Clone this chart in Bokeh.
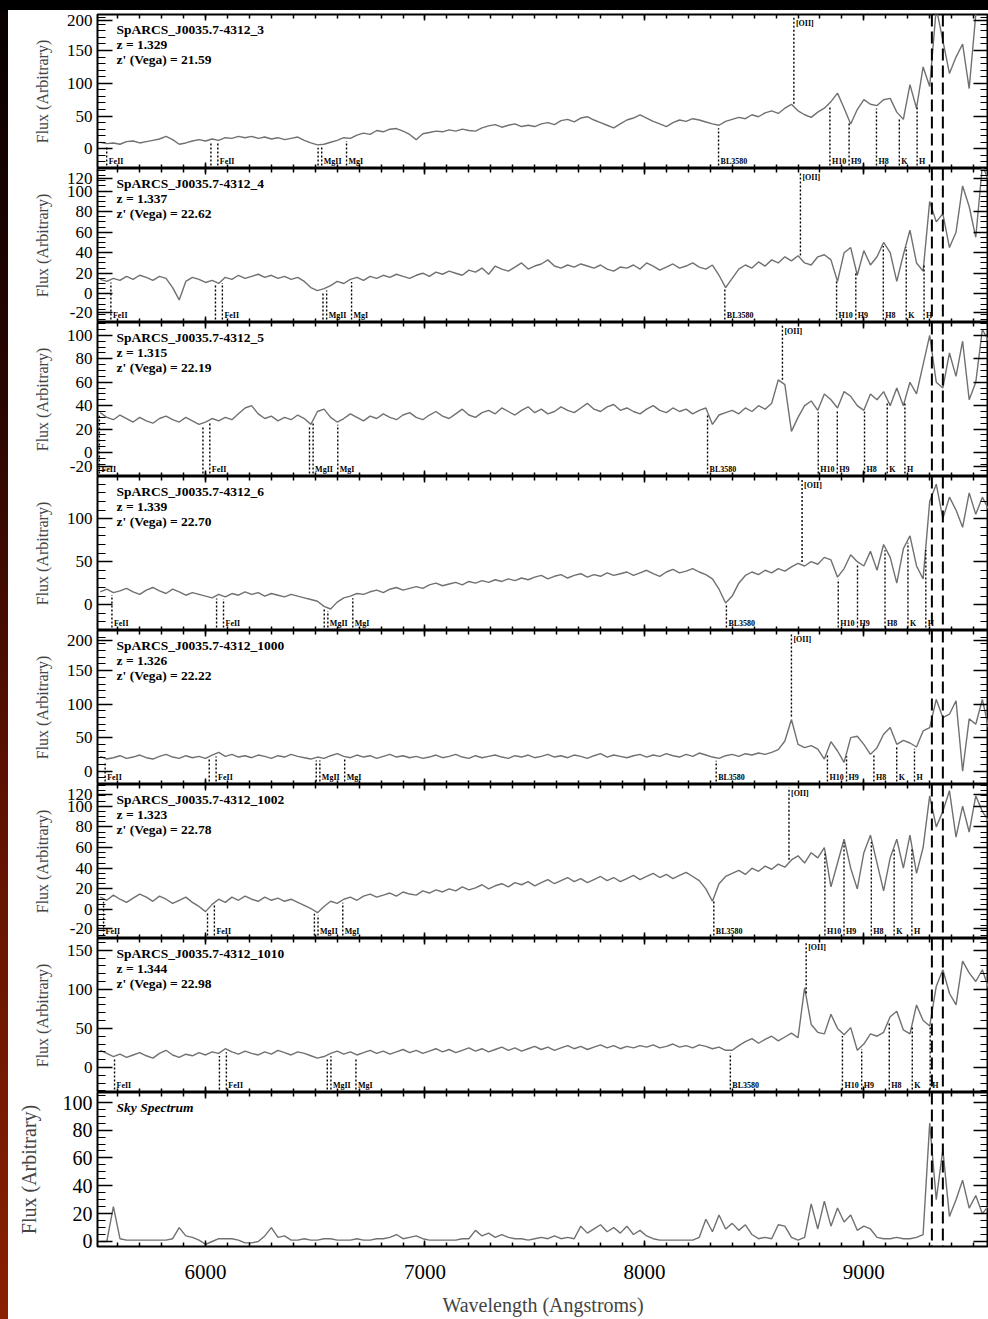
import numpy as np
from bokeh.plotting import figure
from bokeh.models import (Range1d, LinearAxis, SingleIntervalTicker, FixedTicker, Span,
                          ColumnDataSource, CustomJSTickFormatter, Spacer)
from bokeh.layouts import column, row
from bokeh.embed import file_html
from bokeh.resources import INLINE
from bokeh.core.properties import value

# ---------------------------------------------------------------- data
# common wavelength sampling (Angstroms)
wavelength = 5520 + 30 * np.arange(136)

spec_3 = [10, 8, 9, 7, 11, 12, 9, 11, 13, 15, 19, 14, 7, 9, 12, 14,
          12, 15, 13, 17, 16, 19, 17, 19, 16, 18, 15, 17, 14, 16, 18, 13,
          9, 6, 7, 10, 13, 17, 16, 21, 24, 22, 28, 26, 30, 31, 27, 22,
          14, 23, 25, 27, 26, 29, 27, 30, 28, 27, 32, 35, 37, 33, 36, 38,
          34, 36, 34, 38, 40, 37, 43, 45, 41, 47, 49, 44, 40, 36, 32, 38,
          44, 47, 52, 47, 42, 38, 34, 40, 44, 42, 46, 44, 41, 38, 36, 42,
          45, 48, 46, 52, 49, 55, 58, 54, 62, 68, 58, 52, 48, 56, 62, 72,
          85, 62, 38, 60, 75, 68, 66, 75, 77, 56, 45, 98, 62, 125, 95, 215,
          165, 115, 140, 160, 92, 205, 220, 215]

spec_4 = [14, 12, 15, 13, 17, 14, 18, 16, 13, 17, 15, 6, -6, 12, 16, 14,
          11, 13, 10, 16, 14, 18, 15, 17, 19, 16, 18, 15, 17, 14, 16, 12,
          6, 3, 5, 8, 12, 10, 14, 16, 13, 17, 15, 18, 16, 19, 17, 15,
          18, 20, 17, 21, 19, 22, 20, 18, 23, 21, 25, 19, 27, 24, 22, 26,
          30, 24, 27, 29, 33, 27, 25, 28, 26, 29, 27, 25, 28, 24, 22, 26,
          25, 28, 24, 30, 27, 23, 26, 29, 25, 27, 30, 26, 24, 28, 18, 6,
          15, 24, 28, 25, 31, 27, 33, 30, 36, 32, 37, 30, 28, 36, 38, 33,
          12, 40, 45, 18, 42, 28, 36, 50, 40, 12, 38, 62, 30, 22, 90, 70,
          78, 45, 60, 105, 85, 55, 125, 110]

spec_5 = [34, 30, 28, 32, 29, 26, 30, 27, 25, 29, 31, 28, 26, 30, 27, 24,
          26, 29, 27, 30, 28, 33, 38, 40, 33, 29, 31, 27, 30, 28, 32, 29,
          24, 35, 37, 30, 26, 29, 33, 30, 27, 31, 29, 33, 30, 28, 32, 34,
          30, 28, 32, 35, 31, 29, 33, 37, 32, 30, 34, 36, 33, 38, 35, 32,
          36, 39, 34, 37, 33, 35, 39, 36, 34, 38, 42, 37, 35, 39, 41, 36,
          38, 35, 33, 37, 40, 36, 34, 38, 35, 37, 33, 36, 38, 24, 32, 34,
          36, 33, 38, 35, 40, 37, 42, 62, 58, 18, 30, 40, 44, 36, 50, 45,
          38, 52, 48, 40, 36, 50, 45, 52, 40, 55, 40, 60, 50, 75, 100, 60,
          55, 85, 65, 95, 45, 60, 105, 95]

spec_6 = [15, 18, 14, 16, 19, 15, 12, 17, 20, 16, 13, 18, 15, 11, 14, 12,
          10, 8, 12, 9, 13, 11, 15, 12, 14, 10, 13, 11, 9, 12, 10, 8,
          6, 4, -2, -5, 3, 8, 10, 13, 12, 15, 17, 14, 18, 20, 17, 19,
          21, 19, 23, 25, 22, 24, 26, 23, 27, 25, 28, 26, 29, 27, 30, 28,
          31, 29, 32, 34, 30, 33, 35, 31, 34, 36, 32, 35, 33, 37, 34, 36,
          38, 34, 37, 40, 36, 33, 38, 41, 37, 39, 42, 38, 35, 30, 18, 2,
          10, 25, 34, 38, 35, 40, 37, 42, 39, 44, 48, 45, 50, 47, 55, 52,
          32, 42, 58, 50, 45, 62, 40, 70, 55, 25, 65, 80, 45, 30, 120, 140,
          100, 125, 110, 90, 130, 105, 125, 110]

spec_1000 = [22, 18, 20, 23, 19, 21, 24, 20, 18, 22, 25, 21, 19, 23, 20, 22,
             19, 24, 28, 22, 25, 21, 23, 20, 24, 22, 19, 23, 21, 25, 22, 20,
             18, 21, 19, 23, 26, 22, 20, 24, 21, 23, 19, 22, 25, 21, 23, 20,
             22, 19, 21, 24, 20, 22, 25, 21, 19, 23, 20, 22, 24, 21, 19, 23,
             21, 24, 20, 22, 25, 21, 23, 20, 24, 22, 19, 23, 26, 21, 24, 22,
             20, 23, 25, 21, 24, 22, 26, 23, 21, 25, 22, 27, 24, 21, 19, 23,
             25, 22, 26, 24, 27, 25, 28, 32, 45, 77, 40, 35, 38, 33, 18, 44,
             30, 13, 50, 52, 40, 25, 35, 55, 65, 40, 46, 42, 36, 60, 65, 107,
             80, 85, 105, 0, 78, 70, 107, 62]

spec_1002 = [12, 9, 14, 10, 7, 11, 15, 12, 8, 13, 10, 6, 9, 12, 7, 3,
             -2, 5, 10, 7, 12, 9, 13, 10, 8, 12, 9, 11, 8, 10, 7, 4,
             1, -3, 3, 8, 6, 10, 12, 9, 13, 15, 12, 14, 16, 13, 17, 15,
             14, 18, 16, 19, 17, 20, 18, 22, 19, 21, 24, 20, 23, 25, 22, 26,
             24, 27, 23, 26, 29, 25, 28, 31, 27, 30, 26, 29, 32, 28, 31, 27,
             30, 33, 29, 32, 35, 31, 34, 30, 33, 36, 32, 28, 20, 8, 25, 32,
             35, 38, 34, 40, 37, 42, 39, 44, 41, 48, 52, 45, 55, 50, 60, 22,
             45, 68, 40, 20, 55, 72, 45, 18, 50, 68, 40, 72, 35, 60, 110, 80,
             95, 115, 70, 100, 75, 110, 95, 85]

spec_1010 = [22, 18, 14, 17, 13, 16, 19, 15, 12, 18, 22, 16, 13, 17, 15, 19,
             16, 20, 18, 24, 20, 17, 21, 18, 16, 20, 17, 22, 19, 16, 20, 18,
             15, 12, 14, 18, 21, 17, 20, 16, 19, 22, 18, 21, 17, 20, 23, 19,
             22, 18, 21, 24, 20, 23, 19, 22, 25, 21, 24, 20, 23, 26, 22, 25,
             21, 24, 27, 23, 26, 22, 25, 28, 24, 27, 23, 26, 29, 25, 28, 24,
             27, 25, 28, 26, 29, 25, 27, 30, 26, 28, 25, 29, 27, 24, 26, 22,
             22, 28, 33, 37, 31, 36, 40, 34, 39, 44, 38, 102, 55, 45, 43, 68,
             50, 42, 51, 22, 30, 43, 40, 45, 65, 72, 48, 43, 80, 60, 53, 104,
             125, 95, 80, 136, 121, 110, 125, 100]

sky = [0, 0, 25, 2, 1, 1, 1, 1, 1, 1, 1, 2, 10, 4, 3, 1,
       -2, 0, 2, 2, 2, 1, -1, -1, 0, 4, 10, 3, 4, 1, 1, 2,
       1, 1, 2, 2, 1, 1, 1, 2, 1, 1, 2, 2, 3, 5, 2, 3,
       4, 2, 1, 1, 1, 1, 1, 2, 2, 8, 4, 6, 3, 5, 3, 2,
       2, 1, 2, 3, 2, 4, 2, 3, 2, 11, 6, 9, 12, 7, 10, 6,
       11, 5, 8, 4, 2, 1, 1, 1, 1, 1, 1, 3, 16, 7, 19, 9,
       13, 8, 12, 5, 2, 3, 2, 12, 11, 3, 1, 3, 27, 9, 29, 11,
       24, 14, 19, 8, 11, 9, 3, 2, 2, 3, 2, 2, 3, 5, 85, 30,
       66, 18, 30, 44, 24, 33, 20, 26]

object_names = ["SpARCS_J0035.7-4312_3", "SpARCS_J0035.7-4312_4",
                "SpARCS_J0035.7-4312_5", "SpARCS_J0035.7-4312_6",
                "SpARCS_J0035.7-4312_1000", "SpARCS_J0035.7-4312_1002",
                "SpARCS_J0035.7-4312_1010"]
redshifts = [1.329, 1.337, 1.315, 1.339, 1.326, 1.323, 1.344]
zprime_vega = ["21.59", "22.62", "22.19", "22.70", "22.22", "22.78", "22.98"]
spectra = [spec_3, spec_4, spec_5, spec_6, spec_1000, spec_1002, spec_1010]

# rest-frame features marked below each spectrum
feature_names = ["FeII", "FeII", "MgII", "MgI", "BL3580", "H10", "H9", "H8", "K", "H"]
feature_rest = [[2382.8], [2586.7, 2600.2], [2796.4, 2803.5], [2852.1], [3580.0],
                [3797.9], [3835.4], [3889.0], [3933.7], [3968.5]]
oii_rest = 3727.4

# observed-frame markers drawn through every panel
telluric_edges = [9310, 9360]

# flux axis of each panel: (start, end, major step, minor ticks per step)
flux_axes = [(-30, 205, 50, 5), (-28, 122, 20, 4), (-20.5, 111, 20, 4),
             (-30, 149, 50, 5), (-20, 210, 50, 5), (-28, 121, 20, 4),
             (-32, 165, 50, 5), (-3.6, 107, 20, 4)]

# ---------------------------------------------------------------- style
SERIF = "Liberation Serif"
FRAME_W, FRAME_H = 890, 154
EDGE_PAD = 10          # flux tick labels are kept this far (px) inside a panel
x_range = Range1d(5507.6, 9568)


def hidden_axis(ticker):
    return LinearAxis(ticker=ticker,
                      formatter=CustomJSTickFormatter(code="return ''"),
                      major_label_text_font_size="0px", major_label_standoff=0,
                      major_tick_out=0, minor_tick_out=0,
                      axis_line_color=None)


def flux_ticker(y0, y1, step, nminor, dy, top_extra, last):
    """Major ticks at multiples of step (nudged inside near the panel edges)
    plus evenly spaced minor ticks; returns ticker and label lookup."""
    values = [t for t in range(-200, 400, step) if y0 <= t <= y1]
    positions = []
    for t in values:
        pos = (t - y0) / dy
        if pos < EDGE_PAD and not last:
            positions.append(y0 + EDGE_PAD * dy)
        elif FRAME_H - pos < EDGE_PAD - top_extra:
            positions.append(y1 - (EDGE_PAD - top_extra) * dy)
        else:
            positions.append(float(t))
    mstep = step / nminor
    k0 = int(np.ceil(y0 / mstep))
    k1 = int(np.floor(y1 / mstep))
    minors = [k * mstep for k in range(k0, k1 + 1)]
    ticker = FixedTicker(ticks=positions, minor_ticks=minors)
    return ticker, positions, [str(t) for t in values]


def make_panel(idx, flux, title_lines, z=None, last=False):
    y0, y1, step, nminor = flux_axes[idx]
    top = 4 if idx == 0 else 0
    bottom = 73 if last else 0
    p = figure(width=980, height=FRAME_H + top + bottom,
               x_range=x_range, y_range=Range1d(y0, y1),
               x_axis_location=None, y_axis_location=None,
               output_backend="svg", toolbar_location=None,
               min_border_left=89, min_border_right=0,
               min_border_top=top, min_border_bottom=bottom,
               background_fill_color="white", border_fill_color="white",
               outline_line_color="black", outline_line_width=2)
    p.grid.visible = False

    xs = x_range.end - x_range.start
    ys = y1 - y0
    dx = xs / FRAME_W
    dy = ys / FRAME_H
    tick_size = "20px" if last else "17px"

    yt, pos, txt = flux_ticker(y0, y1, step, nminor, dy, top, last)
    left = LinearAxis(ticker=yt, axis_label="Flux (Arbitrary)",
                      formatter=CustomJSTickFormatter(
                          args=dict(pos=pos, txt=txt),
                          code="const i = pos.findIndex(v => Math.abs(v - tick) < 1e-6);"
                               " return i >= 0 ? txt[i] : '';"),
                      major_tick_in=15, major_tick_out=0,
                      minor_tick_in=8, minor_tick_out=0,
                      major_tick_line_width=1.5, minor_tick_line_width=1.2,
                      axis_line_color=None, major_label_standoff=5,
                      major_label_text_font=SERIF,
                      major_label_text_font_size=tick_size,
                      major_label_text_color="black",
                      axis_label_text_font=SERIF,
                      axis_label_text_font_style="normal",
                      axis_label_text_font_size="20px" if last else "16px",
                      axis_label_standoff=20 if last else 13)
    p.add_layout(left, "left")

    right = hidden_axis(yt)
    right.major_tick_in = 15
    right.minor_tick_in = 8
    right.major_tick_line_width = 1.5
    p.add_layout(right, "right")

    xt = SingleIntervalTicker(interval=1000, num_minor_ticks=10)
    top_ax = hidden_axis(xt)
    top_ax.major_tick_in = 6
    top_ax.minor_tick_in = 4
    top_ax.major_tick_line_width = 1.5
    top_ax.minor_tick_line_width = 1.5
    p.add_layout(top_ax, "above")
    if last:
        below = LinearAxis(ticker=xt, axis_label="Wavelength (Angstroms)",
                           major_tick_in=6, major_tick_out=0,
                           minor_tick_in=4, minor_tick_out=0,
                           major_tick_line_width=1.5, minor_tick_line_width=1.5,
                           axis_line_color=None, major_label_standoff=18,
                           major_label_text_font=SERIF,
                           major_label_text_font_size="21px",
                           major_label_text_color="black",
                           axis_label_text_font=SERIF,
                           axis_label_text_font_style="normal",
                           axis_label_text_font_size="20px",
                           axis_label_standoff=12)
    else:
        below = hidden_axis(xt)
        below.major_tick_in = 6
        below.minor_tick_in = 4
        below.major_tick_line_width = 1.5
        below.minor_tick_line_width = 1.5
    p.add_layout(below, "below")

    p.line(wavelength, flux, line_color="#707070", line_width=1.4)

    for edge in telluric_edges:
        p.add_layout(Span(location=edge, dimension="height", line_color="black",
                          line_width=2, line_dash="12 5"))

    # title block
    ty = [y1 - (15 + 15 * k) * dy for k in range(len(title_lines))]
    p.text(x=[x_range.start + 19 * dx] * len(title_lines), y=ty, text=title_lines,
           text_font=value(SERIF), text_font_size="13.5px",
           text_font_style="bold italic" if z is None else "bold",
           text_baseline="middle", text_color="black")

    if z is None:
        return p

    # feature markers
    seg = dict(x0=[], y0=[], x1=[], y1=[])
    lab = dict(x=[], y=[], text=[])
    for name, rests in zip(feature_names, feature_rest):
        obs = [r * (1 + z) for r in rests]
        for w in obs:
            f = float(np.interp(w, wavelength, flux))
            seg["x0"].append(w)
            seg["x1"].append(w)
            seg["y0"].append(y0 + 3 * dy)
            seg["y1"].append(f - 3 * dy)
        lab["x"].append(obs[-1] + 2 * dx)
        lab["y"].append(y0 + 3 * dy)
        lab["text"].append(name)
    w = oii_rest * (1 + z)
    f = float(np.interp(w, wavelength, flux))
    seg["x0"].append(w)
    seg["x1"].append(w)
    seg["y0"].append(f + 3 * dy)
    seg["y1"].append(y1 - 3 * dy)
    p.segment(x0="x0", y0="y0", x1="x1", y1="y1", source=ColumnDataSource(seg),
              line_color="black", line_width=1.4, line_dash="2 2")
    p.text(x="x", y="y", text="text", source=ColumnDataSource(lab),
           text_font=value(SERIF), text_font_size="8px", text_font_style="bold",
           text_baseline="bottom", text_color="black")
    p.text(x=[w + 2 * dx], y=[y1 - 4 * dy], text=["[OII]"],
           text_font=value(SERIF), text_font_size="8px", text_font_style="bold",
           text_baseline="top", text_color="black")
    return p


panels = []
for i, (name, z, mag, flux) in enumerate(zip(object_names, redshifts, zprime_vega, spectra)):
    lines = [name, "z = %.3f" % z, "z' (Vega) = " + mag]
    panels.append(make_panel(i, flux, lines, z=z))
panels.append(make_panel(7, sky, ["Sky Spectrum"], z=None, last=True))

top_band = Spacer(width=988, height=10, styles={"background-color": "black"})
side_strip = Spacer(width=8, height=1309, styles={
    "background": "linear-gradient(to bottom, #080000 0%, #2a0500 30%, "
                  "#5e1200 60%, #8a2000 100%)"})
layout = column(top_band, row(side_strip, column(*panels, spacing=0), spacing=0),
                spacing=0)

open("out.html", "w").write(file_html(layout, INLINE))
